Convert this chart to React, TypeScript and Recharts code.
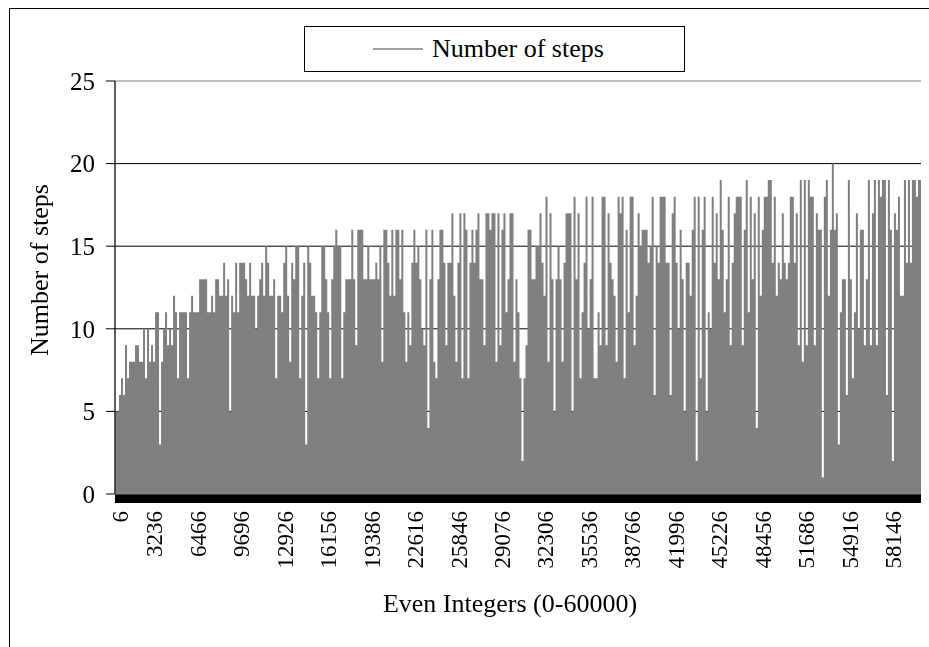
import { AreaChart, Area, XAxis, YAxis, CartesianGrid, Legend, ReferenceArea } from 'recharts';

// column maxima, left to right, one value per ~2px column
const stepsA = [
  5, 5, 6, 7, 6, 9, 7, 8, 8, 8, 9, 9, 8, 8, 10, 7, 10, 8, 9, 8,
  11, 11, 3, 8, 10, 11, 9, 10, 9, 12, 11, 7, 11, 11, 11, 11, 7, 11, 12, 11,
  11, 11, 13, 13, 13, 13, 11, 11, 12, 11, 13, 13, 12, 12, 14, 12, 13, 5, 12, 11,
  14, 11, 14,
];
const stepsB = [
  14, 14, 13, 12, 14, 12, 12, 10, 12, 13, 14, 12, 15, 14, 12, 12, 13, 7, 12, 12,
  11, 14, 15, 12, 8, 14, 13, 15, 15, 7, 12, 14, 3, 15, 14, 12, 12, 11, 7, 11,
  15, 15, 13, 11, 7, 13, 15, 16, 15, 15, 7, 11, 13, 13, 13, 16, 13, 9, 16, 16,
  16, 13, 13, 15, 13, 13, 13,
];
const stepsC = [
  14, 13, 15, 8, 16, 16, 14, 12, 16, 12, 16, 16, 13, 16, 11, 8, 11, 9, 14, 16,
  14, 15, 13, 10, 9, 16, 4, 13, 16, 8, 7, 13, 16, 16, 14, 9, 14, 14, 17, 12,
  8, 14, 17, 7, 17, 16, 7, 14, 16, 14, 16, 17, 13, 13, 9, 17, 17, 16, 17, 17,
  8, 17, 9, 16, 17, 11, 13,
];
const stepsD = [
  17, 17, 8, 13, 11, 7, 2, 7, 9, 16, 16, 13, 13, 15, 15, 17, 14, 12, 18, 8,
  17, 13, 5, 13, 15, 13, 8, 14, 17, 17, 17, 5, 18, 13, 17, 7, 11, 14, 18, 10,
  13, 18, 7, 7, 11, 9, 18, 18, 9, 17, 14, 13, 12, 8, 18, 17, 18, 7, 16, 11,
  18, 18, 9, 12, 17, 15, 16, 16,
];
const stepsE = [
  16, 14, 15, 18, 6, 15, 14, 18, 18, 18, 14, 14, 6, 17, 18, 14, 10, 16, 13, 5,
  14, 14, 12, 16, 18, 2, 18, 7, 16, 18, 5, 11, 10, 18, 14, 17, 13, 19, 16, 11,
  13, 18, 9, 14, 17, 18, 18, 18, 9, 16, 19, 11, 18, 13, 17, 4, 18, 12, 16, 18,
  18, 19, 19, 14, 18, 12, 14,
];
const stepsF = [
  13, 17, 14, 13, 14, 18, 18, 14, 17, 9, 19, 8, 19, 9, 19, 18, 18, 9, 17, 16,
  16, 1, 18, 19, 12, 16, 20, 16, 17, 3, 11, 13, 13, 6, 19, 13, 7, 11, 17, 10,
  16, 16, 9, 13, 19, 9, 17, 19, 9, 19, 18, 19, 19, 6, 19, 16, 2, 17, 16, 18,
  12, 12, 19, 14, 19, 14, 19, 19, 18, 19, 19, 12,
];

const steps = [...stepsA, ...stepsB, ...stepsC, ...stepsD, ...stepsE, ...stepsF];
// even integer at the left of each sampled column
const evenInts = steps.map((_, i) => 6 + 2 * Math.round(i * 74.43));

const xTicks = [6, 3236, 6466, 9696, 12926, 16156, 19386, 22616, 25846, 29076, 32306, 35536, 38766, 41996, 45226, 48456, 51686, 54916, 58146];
const yTicks = [0, 5, 10, 15, 20, 25];
const gridLines = [5, 10, 15, 20];

const data = steps.map((v, i) => ({ n: evenInts[i], steps: v }));

const FONT = '"Liberation Serif", "Times New Roman", serif';

const XTick = ({ x, y, payload, index }: any) => {
  const dx = index === 0 ? 5 : -3.5;
  return (
    <g transform={`translate(${x + dx},${y + 17}) rotate(-90)`}>
      <text textAnchor="end" dominantBaseline="central" fontSize={23} fontFamily={FONT} fill="#000">
        {payload.value}
      </text>
    </g>
  );
};

const LegendBox = () => (
  <div
    style={{
      width: 381,
      height: 46,
      boxSizing: 'border-box',
      border: '1px solid #000',
      display: 'flex',
      alignItems: 'center',
      fontFamily: FONT,
      fontSize: 26,
      color: '#000',
      background: '#fff',
    }}
  >
    <div style={{ marginLeft: 68, width: 50, height: 0, borderTop: '2px solid #a0a0a0' }} />
    <span style={{ marginLeft: 9 }}>Number of steps</span>
  </div>
);

export default function App() {
  return (
    <div style={{ position: 'relative', width: 921, height: 631, background: '#fff' }}>
      <div
        style={{
          position: 'fixed',
          left: 9,
          top: 8,
          right: -20,
          bottom: -20,
          border: '1px solid #000',
          pointerEvents: 'none',
        }}
      />
      <AreaChart width={921} height={631} data={data} margin={{ top: 73, right: 7, bottom: 45, left: 37 }}>
        <CartesianGrid vertical={false} horizontalValues={gridLines} stroke="#000" strokeWidth={1} />
        <XAxis
          dataKey="n"
          type="number"
          domain={[6, 60000]}
          ticks={xTicks}
          interval={0}
          axisLine={false}
          tickLine={false}
          tickSize={0}
          tickMargin={0}
          height={100}
          tick={<XTick />}
          label={{
            content: () => (
              <text x={502} y={595} textAnchor="middle" dominantBaseline="central" fontSize={26} fontFamily={FONT} fill="#000">
                Even Integers (0-60000)
              </text>
            ),
          }}
        />
        <YAxis
          type="number"
          domain={[0, 25]}
          ticks={yTicks}
          width={70}
          axisLine={{ stroke: '#000' }}
          tickLine={{ stroke: '#000' }}
          tickSize={9}
          tickMargin={11}
          tick={{ fontSize: 25, fontFamily: FONT, fill: '#000' }}
          label={{
            content: () => (
              <text
                x={31}
                y={262}
                transform="rotate(-90 31 262)"
                textAnchor="middle"
                dominantBaseline="central"
                fontSize={26}
                fontFamily={FONT}
                fill="#000"
              >
                Number of steps
              </text>
            ),
          }}
        />
        <Legend
          layout="horizontal"
          verticalAlign="middle"
          align="center"
          content={() => <LegendBox />}
          wrapperStyle={{ top: 18, left: 296, width: 381, height: 46 }}
        />
        <Area
          type="stepAfter"
          dataKey="steps"
          name="Number of steps"
          stroke="none"
          fill="#808080"
          fillOpacity={1}
          dot={false}
          activeDot={false}
          isAnimationActive={false}
        />
        <ReferenceArea x1={6} x2={60000} y1={-0.55} y2={0} ifOverflow="visible" fill="#000" fillOpacity={1} stroke="none" />
        <ReferenceArea x1={6} x2={60000} y1={0} y2={25} ifOverflow="visible" fill="none" stroke="#808080" strokeWidth={1} />
      </AreaChart>
    </div>
  );
}
